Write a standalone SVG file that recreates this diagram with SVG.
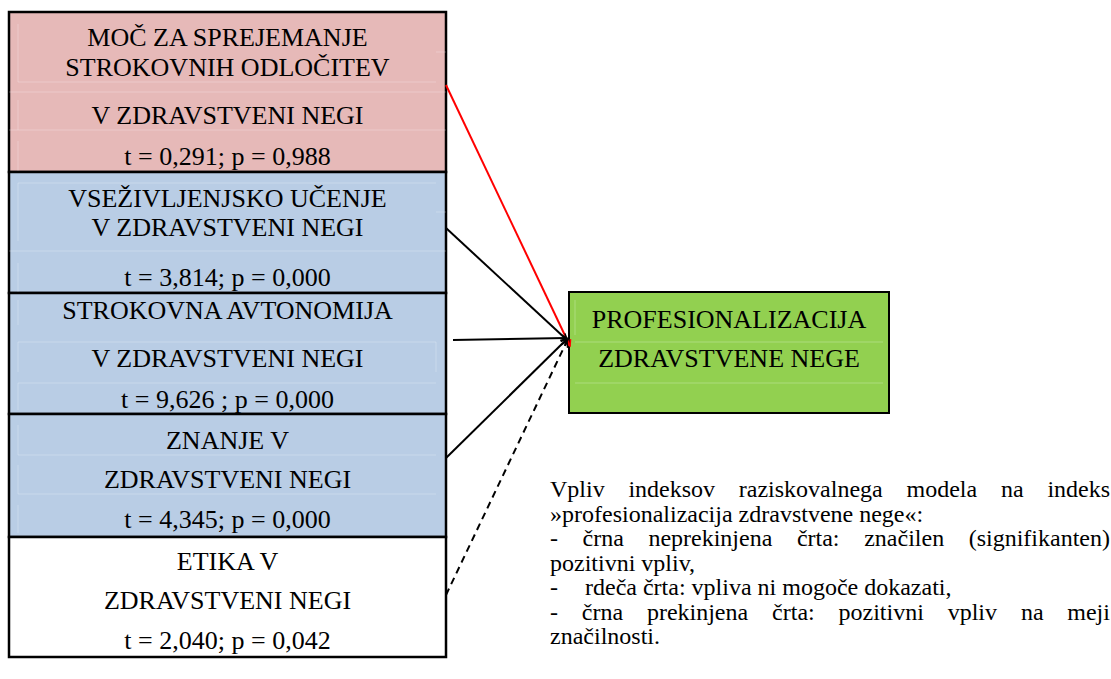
<svg xmlns="http://www.w3.org/2000/svg" width="1111" height="679" viewBox="0 0 1111 679">
  <defs>
    <style>
      text { font-family: "Liberation Serif", "Times New Roman", serif; fill: #000; }
      .node text { font-size: 26px; text-anchor: middle; }
      .cell { stroke: #000; stroke-width: 2.5; }
      .grid { stroke: #fff; stroke-opacity: 0.25; stroke-width: 1; fill: none; }
      .conn { fill: none; stroke-width: 2; }
      .solid { stroke: #000; }
      .red { stroke: #ff0000; }
      .dash { stroke: #000; stroke-dasharray: 7 5; }
      .legend { font-size: 24px; }
    </style>
    <marker id="tipBlack" markerUnits="userSpaceOnUse" markerWidth="9" markerHeight="9" refX="7" refY="4.5" orient="auto">
      <path d="M1,1 L7,4.5 L1,8" fill="none" stroke="#000" stroke-width="1.5"/>
    </marker>
    <marker id="tipRed" markerUnits="userSpaceOnUse" markerWidth="9" markerHeight="9" refX="7" refY="4.5" orient="auto">
      <path d="M1,1 L7,4.5 L1,8" fill="none" stroke="#ff0000" stroke-width="1.5"/>
    </marker>
  </defs>

  <rect width="1111" height="679" fill="#ffffff"/>

  <!-- predictor indices, stacked on the left -->
  <g id="moc" class="node">
    <rect class="cell" x="9" y="12" width="437" height="160" fill="#e6b9b8"/>
    <path class="grid" d="M18,82 H436 M9,92 H446 M9,130 H446 M18,24 V82 M18,100 V130 M18,141 V172 M436,52 H446"/>
    <text x="227.5" y="46">MOČ ZA SPREJEMANJE</text>
    <text x="227.5" y="76">STROKOVNIH ODLOČITEV</text>
    <text x="227.5" y="124">V ZDRAVSTVENI NEGI</text>
    <text x="227.5" y="165">t = 0,291; p = 0,988</text>
  </g>

  <g id="ucenje" class="node">
    <rect class="cell" x="9" y="172" width="437" height="121" fill="#b9cde5"/>
    <path class="grid" d="M18,183 H436 M9,251 H446 M18,183 V241 M18,263 V293 M436,212 H446"/>
    <text x="227.5" y="207">VSEŽIVLJENJSKO UČENJE</text>
    <text x="227.5" y="236">V ZDRAVSTVENI NEGI</text>
    <text x="227.5" y="286">t = 3,814; p = 0,000</text>
  </g>

  <g id="avtonomija" class="node">
    <rect class="cell" x="9" y="293" width="437" height="121" fill="#b9cde5"/>
    <path class="grid" d="M18,342 H436 M18,383 H436 M18,300 V325 M18,342 V372 M18,383 V410 M436,342 V372"/>
    <text x="227.5" y="319">STROKOVNA AVTONOMIJA</text>
    <text x="227.5" y="367">V ZDRAVSTVENI NEGI</text>
    <text x="227.5" y="408">t = 9,626 ; p = 0,000</text>
  </g>

  <g id="znanje" class="node">
    <rect class="cell" x="9" y="414" width="437" height="123" fill="#b9cde5"/>
    <path class="grid" d="M18,455 H436 M18,494 H436 M18,425 V455 M18,465 V494 M18,505 V533"/>
    <text x="227.5" y="449">ZNANJE V</text>
    <text x="227.5" y="488">ZDRAVSTVENI NEGI</text>
    <text x="227.5" y="528">t = 4,345; p = 0,000</text>
  </g>

  <g id="etika" class="node">
    <rect class="cell" x="9" y="537" width="437" height="120" fill="#ffffff"/>
    <text x="227.5" y="570">ETIKA V</text>
    <text x="227.5" y="609">ZDRAVSTVENI NEGI</text>
    <text x="227.5" y="649">t = 2,040; p = 0,042</text>
  </g>

  <!-- dependent index -->
  <g id="profesionalizacija" class="node">
    <rect x="569" y="292" width="320" height="121" fill="#92d050" stroke="#000" stroke-width="2"/>
    <path class="grid" d="M575,342 H883 M575,383 H883 M575,300 V335"/>
    <text x="729" y="328">PROFESIONALIZACIJA</text>
    <text x="729" y="367">ZDRAVSTVENE NEGE</text>
  </g>

  <!-- effects of the predictors -->
  <g id="connectors">
    <line class="conn red" x1="446" y1="85" x2="570" y2="346" marker-end="url(#tipRed)"/>
    <line class="conn solid" x1="446" y1="228" x2="567" y2="340" marker-end="url(#tipBlack)"/>
    <line class="conn solid" x1="453" y1="340" x2="567" y2="338" marker-end="url(#tipBlack)"/>
    <line class="conn solid" x1="446" y1="458" x2="567" y2="339" marker-end="url(#tipBlack)"/>
    <line class="conn dash" x1="446" y1="595" x2="567" y2="341" marker-end="url(#tipBlack)"/>
  </g>

  <!-- explanation of line styles, justified paragraph -->
  <g id="legend" class="legend">
    <text y="497"><tspan x="550">Vpliv</tspan><tspan x="628.4">indeksov</tspan><tspan x="738.8">raziskovalnega</tspan><tspan x="906.5">modela</tspan><tspan x="1000.9">na</tspan><tspan x="1047.4">indeks</tspan></text>
    <text x="550" y="521.5">»profesionalizacija zdravstvene nege«:</text>
    <text y="546"><tspan x="550">-</tspan><tspan x="582.6">črna</tspan><tspan x="648.4">neprekinjena</tspan><tspan x="796.9">črta:</tspan><tspan x="864.2">značilen</tspan><tspan x="968.7">(signifikanten)</tspan></text>
    <text x="550" y="570.5">pozitivni vpliv,</text>
    <text y="595"><tspan x="550">-</tspan><tspan x="585">rdeča črta: vpliva ni mogoče dokazati,</tspan></text>
    <text y="619.5"><tspan x="550">-</tspan><tspan x="581.8">črna</tspan><tspan x="646.9">prekinjena</tspan><tspan x="772.1">črta:</tspan><tspan x="838.5">pozitivni</tspan><tspan x="947.7">vpliv</tspan><tspan x="1020.9">na</tspan><tspan x="1067.3">meji</tspan></text>
    <text x="550" y="644">značilnosti.</text>
  </g>
</svg>
